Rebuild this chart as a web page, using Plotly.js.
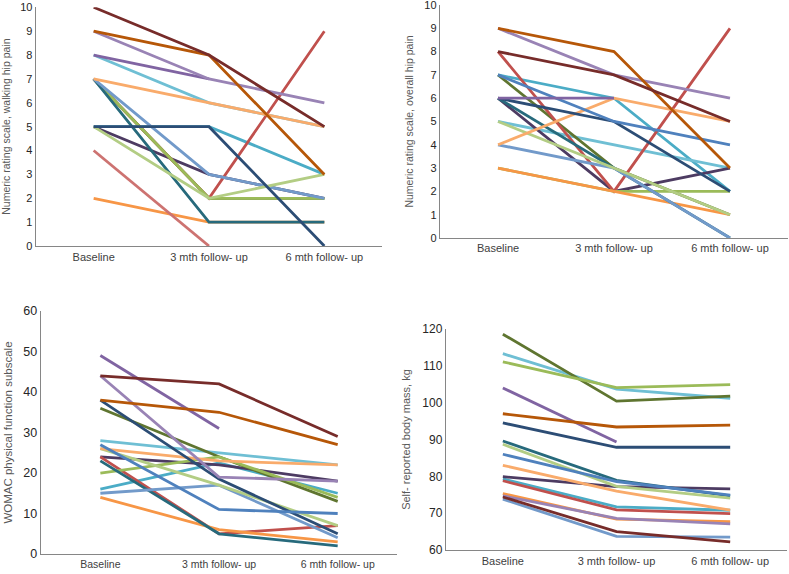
<!DOCTYPE html>
<html>
<head>
<meta charset="utf-8">
<script src="https://cdn.plot.ly/plotly-3.0.1.min.js"></script>
<style>html,body{margin:0;padding:0;background:#fff;}#chart{width:789px;height:574px;}</style>
</head>
<body>
<div id="chart"></div>
<script>
// Time points (x categories)
const categories = ['Baseline', '3 mth follow- up', '6 mth follow- up'];

// Participants (one line each); index matches the value arrays below
const participants = ['P01','P02','P03','P04','P05','P06','P07','P08','P09','P10','P11','P12','P13','P14','P15','P16','P17','P18'];

// Numeric rating scale, walking hip pain  [baseline, 3 mth, 6 mth]
const walkBaseline = [10, 9, 9, 8, 8, 7, 5, 5, 7, 5, 7, 5, 7, 4, 2, 7, null, 7];
const walk3mth     = [ 8, 8, 7, 7, 6, 6, 5, 5, 3, 3, 2, 2, 1, 0, 1, 2, null, 2];
const walk6mth     = [ 5, 3, 6, null, 5, 5, 3, 0, 2, 2, 2, 3, 1, null, 1, 9, null, 2];

// Numeric rating scale, overall hip pain
const overallBaseline = [8, 9, 9, 6, 5, 4, 7, 6, 4, 6, 3, 5, 6, null, 3, 8, 7, 7];
const overall3mth     = [7, 8, 7, 6, 4, 6, 6, 5, 3, 2, 2, 3, 3, null, 2, 2, 5, 3];
const overall6mth     = [5, 3, 6, null, 3, 5, 2, 2, 0, 3, 2, 1, 0, null, 1, 9, 4, 1];

// WOMAC physical function subscale
const womacBaseline = [44, 38, 44, 49, 28, 26, 16, 38, 15, 24, 20, 26, 23, null, 14, 24, 27, 36];
const womac3mth     = [42, 35, 19, 31, 25, 23, 22.5, 18.5, 17, 22, 24, 17, 5, null, 6, 5, 11, 24];
const womac6mth     = [29, 27, 18, null, 22, 22, 15, 5, 4, 18, 14, 7, 2, null, 3, 7, 10, 13];

// Self-reported body mass, kg
const massBaseline = [74.4, 97, 74.7, 104, 113.3, 83, 79.3, 94.5, 73.8, 79.9, 111.1, 88.7, 89.6, null, 75.3, 78.8, 86, 118.6];
const mass3mth     = [65, 93.4, 68.6, 89.3, 103.7, 76, 71.7, 87.9, 63.7, 77.2, 104.1, 77.3, 78.9, null, 68.4, 70.9, 78.6, 100.4];
const mass6mth     = [62.2, 93.9, 67.1, null, 101.2, 70.8, 70.8, 87.9, 63.5, 76.6, 104.9, 74.1, 74.7, null, 67.7, 69.9, 74.9, 101.8];

// ---- styles ----
const lineColors = ['#772C2A','#B65708','#9983B5','#8064A2','#6FBFD4','#F9AB6B','#4BACC6','#2C4D75','#729ACA','#4D3B62','#9BBB59','#B3CD84','#276A7C','#CD7371','#F79646','#C0504D','#4F81BD','#5F7530'];
const drawOrder = [6, 4, 9, 17, 15, 10, 14, 12, 8, 11, 5, 7, 16, 3, 2, 1, 0, 13];

const panels = [
  {b: walkBaseline, m3: walk3mth, m6: walk6mth, xa: 'x', ya: 'y'},
  {b: overallBaseline, m3: overall3mth, m6: overall6mth, xa: 'x2', ya: 'y2'},
  {b: womacBaseline, m3: womac3mth, m6: womac6mth, xa: 'x3', ya: 'y3'},
  {b: massBaseline, m3: mass3mth, m6: mass6mth, xa: 'x4', ya: 'y4'}
];

const traces = [];
panels.forEach(p => {
  drawOrder.forEach(i => {
    const ys = [p.b[i], p.m3[i], p.m6[i]];
    if (ys.every(v => v === null)) return;
    traces.push({
      type: 'scatter', mode: 'lines', name: participants[i],
      x: categories, y: ys, xaxis: p.xa, yaxis: p.ya,
      line: {color: lineColors[i], width: 2.8}, connectgaps: false,
      hoverinfo: 'skip', showlegend: false
    });
  });
});

const fontFam = 'Liberation Sans, Arial, sans-serif';
function xAx(domain, anchor, size) {
  return {domain: domain, anchor: anchor, type: 'category', range: [-0.5, 2.5],
    showline: true, linecolor: '#868686', linewidth: 1.3, ticks: '', showgrid: false, zeroline: false,
    tickfont: {family: fontFam, size: size, color: '#404040'}, fixedrange: true};
}
function yAx(domain, anchor, range, dtick, size, title, tsize, standoff) {
  return {domain: domain, anchor: anchor, range: range, tick0: 0, dtick: dtick,
    showline: true, linecolor: '#868686', linewidth: 1.3, ticks: '', showgrid: false, zeroline: false,
    ticklabeloverflow: 'allow',
    tickfont: {family: fontFam, size: size, color: '#262626'},
    title: {text: title, font: {family: fontFam, size: tsize, color: '#595959'}, standoff: standoff},
    fixedrange: true};
}

const layout = {
  width: 789, height: 574,
  margin: {l: 0, r: 0, t: 0, b: 0},
  paper_bgcolor: '#ffffff', plot_bgcolor: '#ffffff',
  showlegend: false,
  xaxis:  xAx([0.0456, 0.4842], 'y', 11),
  yaxis:  yAx([0.5714, 0.9873], 'x', [0, 10.001], 1, 11, 'Numeric rating scale, walking hip pain', 10.5, 8),
  xaxis2: xAx([0.5577, 0.9987], 'y2', 11),
  yaxis2: yAx([0.5854, 0.9913], 'x2', [0, 10.001], 1, 11, 'Numeric rating scale, overall hip pain', 10.5, 8),
  xaxis3: xAx([0.0520, 0.5032], 'y3', 10.5),
  yaxis3: yAx([0.0348, 0.4582], 'x3', [0, 60.001], 10, 12.5, 'WOMAC physical function subscale', 11.5, 8),
  xaxis4: xAx([0.5653, 0.9975], 'y4', 11),
  yaxis4: yAx([0.0418, 0.4268], 'x4', [60, 120.001], 10, 12, 'Self- reported body mass, kg', 11, 9)
};

Plotly.newPlot('chart', traces, layout, {displayModeBar: false, staticPlot: true});
</script>
</body>
</html>
